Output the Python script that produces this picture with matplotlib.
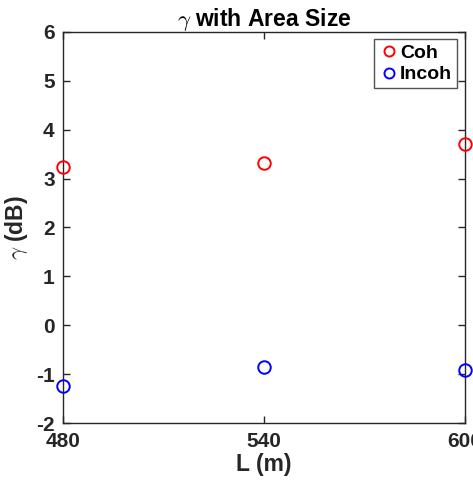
import matplotlib
matplotlib.use("Agg")
import matplotlib.pyplot as plt

# area side length (m) and gain values (dB)
lengths = [480, 540, 600]
gamma_coh = [3.24, 3.31, 3.71]
gamma_incoh = [-1.24, -0.84, -0.92]

plt.rcParams["font.family"] = ["Liberation Sans", "DejaVu Sans"]
plt.rcParams["font.weight"] = "bold"
plt.rcParams["mathtext.fontset"] = "cm"
plt.rcParams["axes.unicode_minus"] = False

axis_color = "#262626"

fig = plt.figure(figsize=(4.73, 4.91), dpi=100)
ax = fig.add_axes([63 / 473, 1 - 423.3 / 491, 402 / 473, 391.6 / 491])

ax.plot(lengths, gamma_coh, "o", color="red", markerfacecolor="none",
        markersize=9, markeredgewidth=1.4, label="Coh", clip_on=False, zorder=3)
ax.plot(lengths, gamma_incoh, "o", color="blue", markerfacecolor="none",
        markersize=9, markeredgewidth=1.4, label="Incoh", clip_on=False, zorder=3)

ax.set_xlim(480, 600)
ax.set_ylim(-2, 6)
ax.set_xticks(lengths)
ax.set_yticks(range(-2, 7))

for side in ax.spines.values():
    side.set_color(axis_color)
    side.set_linewidth(1.0)
ax.tick_params(direction="in", top=True, right=True, length=5, width=1.0,
               color=axis_color, labelsize=15, labelcolor=axis_color)
ax.tick_params(axis="x", pad=6)
ax.tick_params(axis="y", pad=6)
for lbl in ax.get_xticklabels() + ax.get_yticklabels():
    lbl.set_fontweight("bold")

ax.set_xlabel("L (m)", fontsize=16.5, fontweight="bold", color=axis_color, labelpad=2)
ax.set_ylabel(r"$\gamma$ (dB)", fontsize=16.5, fontweight="bold", color=axis_color, labelpad=4)
ax.set_title(r"$\gamma$ with Area Size", fontsize=16.5, fontweight="bold", pad=4)

leg = ax.legend(loc="upper right", fontsize=14, frameon=True, fancybox=False,
                handletextpad=0.1, handlelength=1.0, borderpad=0.25,
                labelspacing=0.2, borderaxespad=0.4, markerscale=0.8)
leg.get_frame().set_edgecolor(axis_color)
leg.get_frame().set_linewidth(1.0)
for t in leg.get_texts():
    t.set_fontweight("bold")

fig.savefig("out.png", dpi=100)
